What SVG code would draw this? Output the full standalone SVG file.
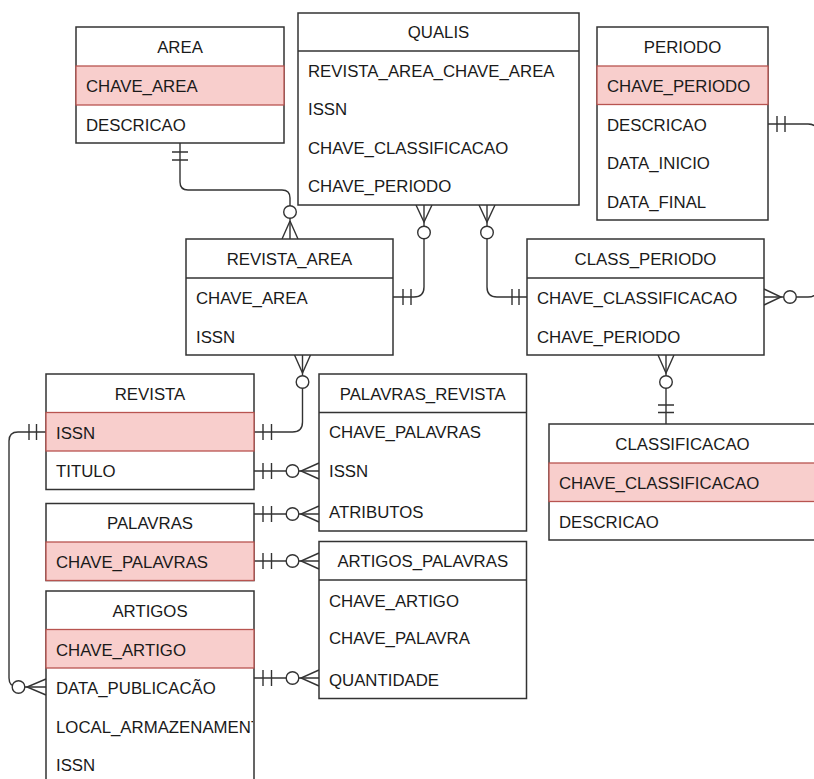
<svg xmlns="http://www.w3.org/2000/svg" width="814" height="779" viewBox="0 0 814 779">
<style>
.box{fill:#fff;stroke:#333;stroke-width:1.5}
.pk{fill:#f8cecc;stroke:#b85450;stroke-width:1.3}
.sep{stroke:#333;stroke-width:1.5}
.t{font-family:"Liberation Sans",Arial,Helvetica,sans-serif;font-size:16.8px;fill:#1a1a1a}
.c{text-anchor:middle}
.ln{fill:none;stroke:#333;stroke-width:1.4}
.o{fill:#fff;stroke:#333;stroke-width:1.4}
</style>
<defs>
<clipPath id="clipArt"><rect x="47" y="591" width="206" height="200"/></clipPath>
</defs>
<rect width="814" height="779" fill="#fff"/>

<g id="connectors">
  <!-- AREA -> REVISTA_AREA -->
  <path class="ln" d="M180 143 V182 Q180 190 188 190 H282 Q290 190 290 198 V239"/>
  <path class="ln" d="M172 152 H188 M172 160 H188"/>
  <path class="ln" d="M290 221 L282 239 M290 221 L298 239"/>
  <circle class="o" cx="290" cy="212" r="6.3"/>

  <!-- QUALIS -> REVISTA_AREA -->
  <path class="ln" d="M424 205 V287 Q424 297 414 297 H393"/>
  <path class="ln" d="M416 205 L424 222 L432 205"/>
  <path class="ln" d="M403 289 V305 M411 289 V305"/>
  <circle class="o" cx="424" cy="232.5" r="6.3"/>

  <!-- QUALIS -> CLASS_PERIODO -->
  <path class="ln" d="M487 205 V287 Q487 297 497 297 H527"/>
  <path class="ln" d="M479 205 L487 222 L495 205"/>
  <path class="ln" d="M512 289 V305 M519 289 V305"/>
  <circle class="o" cx="487" cy="232.5" r="6.3"/>

  <!-- CLASS_PERIODO -> PERIODO -->
  <path class="ln" d="M768 124 H808 Q818 124 818 134 V287 Q818 297 808 297 H764"/>
  <path class="ln" d="M777 116 V132 M785 116 V132"/>
  <path class="ln" d="M764 289 L781 297 L764 305"/>
  <circle class="o" cx="790" cy="297" r="6.3"/>

  <!-- CLASS_PERIODO -> CLASSIFICACAO -->
  <path class="ln" d="M666 355 V424"/>
  <path class="ln" d="M658 355 L666 373 L674 355"/>
  <path class="ln" d="M658 405 H674 M658 412.5 H674"/>
  <circle class="o" cx="666" cy="382" r="6.3"/>

  <!-- REVISTA_AREA -> REVISTA -->
  <path class="ln" d="M302.5 355 V422 Q302.5 432 292.5 432 H254"/>
  <path class="ln" d="M294.5 355 L302.5 373 L310.5 355"/>
  <path class="ln" d="M263 424 V440 M271.5 424 V440"/>
  <circle class="o" cx="302.5" cy="382" r="6.3"/>

  <!-- REVISTA -> PALAVRAS_REVISTA -->
  <path class="ln" d="M254 471 H319"/>
  <path class="ln" d="M263 463 V479 M271.5 463 V479"/>
  <path class="ln" d="M319 463 L301 471 L319 479"/>
  <circle class="o" cx="292.5" cy="471" r="6.3"/>

  <!-- PALAVRAS -> PALAVRAS_REVISTA -->
  <path class="ln" d="M254 514 H319"/>
  <path class="ln" d="M263 506 V522 M271.5 506 V522"/>
  <path class="ln" d="M319 506 L301 514 L319 522"/>
  <circle class="o" cx="292.5" cy="514" r="6.3"/>

  <!-- PALAVRAS -> ARTIGOS_PALAVRAS -->
  <path class="ln" d="M254 561 H319"/>
  <path class="ln" d="M263 553 V569 M271.5 553 V569"/>
  <path class="ln" d="M319 553 L301 561 L319 569"/>
  <circle class="o" cx="292.5" cy="561" r="6.3"/>

  <!-- ARTIGOS -> ARTIGOS_PALAVRAS -->
  <path class="ln" d="M254 678 H319"/>
  <path class="ln" d="M263 670 V686 M271.5 670 V686"/>
  <path class="ln" d="M319 670 L301 678 L319 686"/>
  <circle class="o" cx="292.5" cy="678" r="6.3"/>

  <!-- REVISTA -> ARTIGOS -->
  <path class="ln" d="M46 687 H18 Q9 687 9 678 V441 Q9 432 18 432 H46"/>
  <path class="ln" d="M29 424 V440 M36.5 424 V440"/>
  <path class="ln" d="M46 679 L27 687 L46 695"/>
  <circle class="o" cx="18.5" cy="687" r="6.3"/>
</g>

<g id="AREA">
  <rect class="box" x="76" y="27" width="208" height="116"/>
  <rect class="pk" x="76" y="66" width="208" height="39"/>
  <text class="t c" x="180" y="52.5">AREA</text>
  <text class="t" x="86" y="92">CHAVE_AREA</text>
  <text class="t" x="86" y="130.5">DESCRICAO</text>
</g>

<g id="QUALIS">
  <rect class="box" x="298" y="13" width="281" height="192"/>
  <line class="sep" x1="298" y1="51" x2="579" y2="51"/>
  <text class="t c" x="438.5" y="38">QUALIS</text>
  <text class="t" x="308" y="77">REVISTA_AREA_CHAVE_AREA</text>
  <text class="t" x="308" y="115">ISSN</text>
  <text class="t" x="308" y="153.5">CHAVE_CLASSIFICACAO</text>
  <text class="t" x="308" y="192">CHAVE_PERIODO</text>
</g>

<g id="PERIODO">
  <rect class="box" x="597" y="27" width="171" height="193"/>
  <rect class="pk" x="597" y="66" width="171" height="38.5"/>
  <text class="t c" x="682.5" y="52.5">PERIODO</text>
  <text class="t" x="607" y="92">CHAVE_PERIODO</text>
  <text class="t" x="607" y="130.5">DESCRICAO</text>
  <text class="t" x="607" y="169">DATA_INICIO</text>
  <text class="t" x="607" y="207.5">DATA_FINAL</text>
</g>

<g id="REVISTA_AREA">
  <rect class="box" x="186" y="239" width="207" height="116"/>
  <line class="sep" x1="186" y1="278" x2="393" y2="278"/>
  <text class="t c" x="289.5" y="265">REVISTA_AREA</text>
  <text class="t" x="196" y="304">CHAVE_AREA</text>
  <text class="t" x="196" y="342.5">ISSN</text>
</g>

<g id="CLASS_PERIODO">
  <rect class="box" x="527" y="239" width="237" height="116"/>
  <line class="sep" x1="527" y1="278" x2="764" y2="278"/>
  <text class="t c" x="645.5" y="265">CLASS_PERIODO</text>
  <text class="t" x="537" y="304">CHAVE_CLASSIFICACAO</text>
  <text class="t" x="537" y="342.5">CHAVE_PERIODO</text>
</g>

<g id="CLASSIFICACAO">
  <rect class="box" x="549" y="424" width="267" height="116"/>
  <rect class="pk" x="549" y="463" width="267" height="38.5"/>
  <text class="t c" x="682.5" y="450">CLASSIFICACAO</text>
  <text class="t" x="559" y="489">CHAVE_CLASSIFICACAO</text>
  <text class="t" x="559" y="527.5">DESCRICAO</text>
</g>

<g id="REVISTA">
  <rect class="box" x="46" y="374" width="208" height="115.5"/>
  <rect class="pk" x="46" y="412.5" width="208" height="38.5"/>
  <text class="t c" x="150" y="400">REVISTA</text>
  <text class="t" x="56" y="439">ISSN</text>
  <text class="t" x="56" y="477">TITULO</text>
</g>

<g id="PALAVRAS">
  <rect class="box" x="46" y="503.5" width="208" height="77"/>
  <rect class="pk" x="46" y="542" width="208" height="38.5"/>
  <text class="t c" x="150" y="529">PALAVRAS</text>
  <text class="t" x="56" y="567.5">CHAVE_PALAVRAS</text>
</g>

<g id="ARTIGOS">
  <rect class="box" x="46" y="591" width="208" height="200"/>
  <rect class="pk" x="46" y="629.5" width="208" height="38.5"/>
  <text class="t c" x="150" y="617">ARTIGOS</text>
  <text class="t" x="56" y="656">CHAVE_ARTIGO</text>
  <text class="t" x="56" y="694">DATA_PUBLICACÃO</text>
  <text class="t" x="56" y="732.5" clip-path="url(#clipArt)">LOCAL_ARMAZENAMENTO</text>
  <text class="t" x="56" y="771">ISSN</text>
</g>

<g id="PALAVRAS_REVISTA">
  <rect class="box" x="319" y="374" width="207.5" height="157"/>
  <line class="sep" x1="319" y1="412.5" x2="526.5" y2="412.5"/>
  <text class="t c" x="422.75" y="400">PALAVRAS_REVISTA</text>
  <text class="t" x="329" y="438">CHAVE_PALAVRAS</text>
  <text class="t" x="329" y="477">ISSN</text>
  <text class="t" x="329" y="518">ATRIBUTOS</text>
</g>

<g id="ARTIGOS_PALAVRAS">
  <rect class="box" x="319" y="541.5" width="207.5" height="157"/>
  <line class="sep" x1="319" y1="580" x2="526.5" y2="580"/>
  <text class="t c" x="422.75" y="567">ARTIGOS_PALAVRAS</text>
  <text class="t" x="329" y="606.5">CHAVE_ARTIGO</text>
  <text class="t" x="329" y="644">CHAVE_PALAVRA</text>
  <text class="t" x="329" y="686">QUANTIDADE</text>
</g>
</svg>
